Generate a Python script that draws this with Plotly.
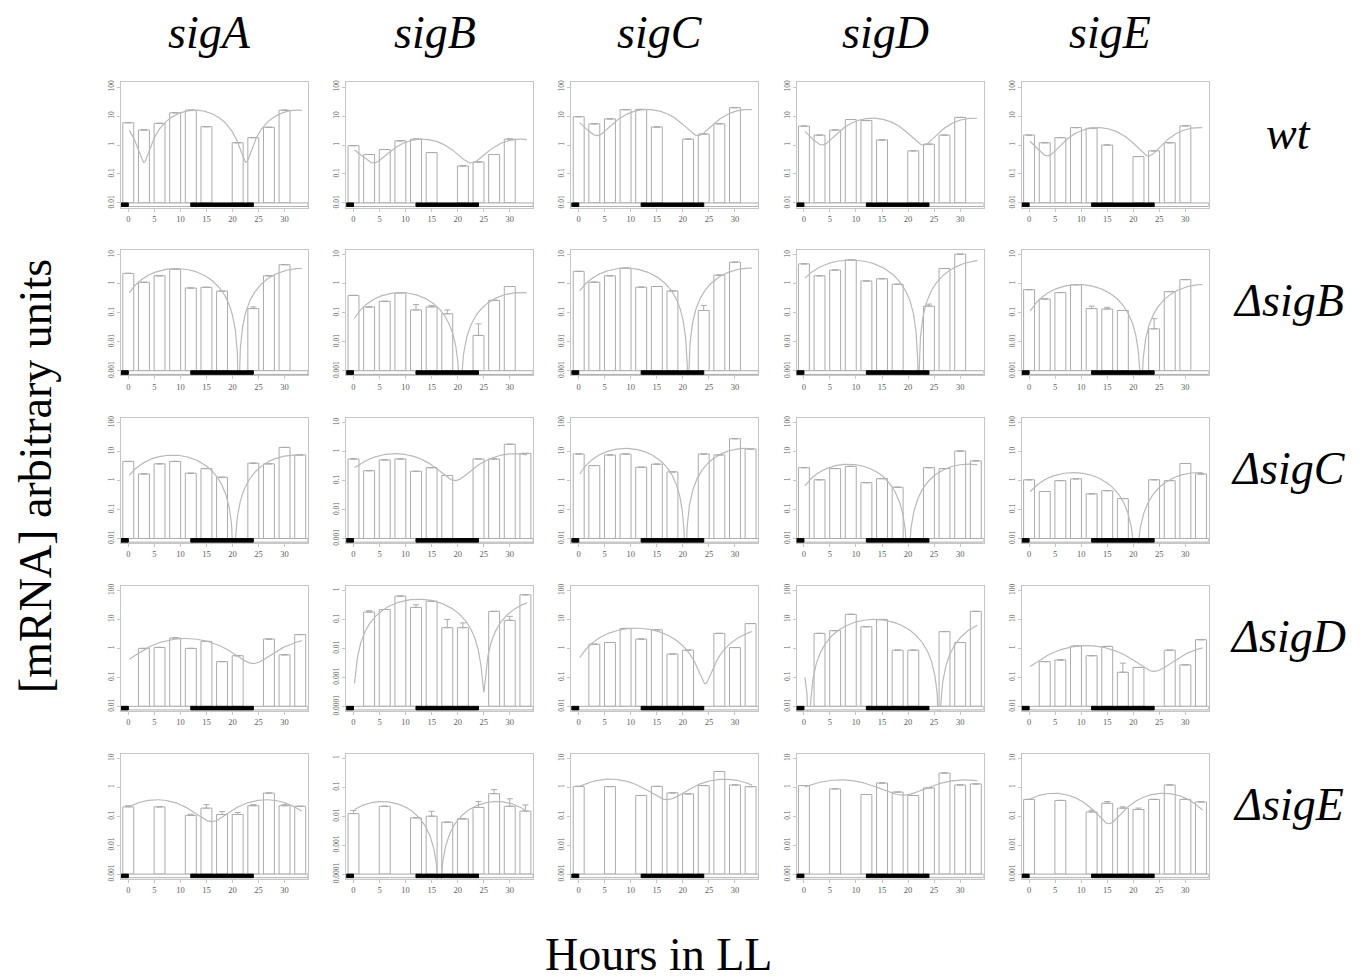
import numpy as np
import plotly.graph_objects as go

W, H = 1361, 979

genes = ["sigA", "sigB", "sigC", "sigD", "sigE"]
strains = ["wt", "ΔsigB", "ΔsigC", "ΔsigD", "ΔsigE"]
hours = [0, 3, 6, 9, 12, 15, 18, 21, 24, 27, 30, 33]
x_ticks = [0, 5, 10, 15, 20, 25, 30]
dark_periods = [(-3, 0), (12, 24)]
light_periods = [(0, 12), (24, 40)]

# lowest decade (log10) of each panel's y axis
y_min_exp = {
    "wt":    [-2, -2, -2, -2, -2],
    "ΔsigB": [-3, -3, -3, -3, -3],
    "ΔsigC": [-2, -3, -2, -2, -2],
    "ΔsigD": [-2, -4, -2, -2, -2],
    "ΔsigE": [-3, -4, -3, -3, -3],
}

# [mRNA] values at each hour (None = no bar)
wt_vals = {
    "sigA": [5.9, 3.3, 5.6, 13, 16, 4.3, None, 1.2, 1.8, 4.1, 16, None],
    "sigB": [0.95, 0.47, 0.7, 1.4, 1.6, 0.55, None, 0.19, 0.26, 0.47, 1.6, None],
    "sigC": [9.5, 5.4, 8.0, 16.6, 17, 4.2, None, 1.6, 2.4, 5.4, 19.5, None],
    "sigD": [4.5, 2.2, 3.3, 7.6, 7.0, 1.5, None, 0.63, 1.07, 2.2, 9.0, None],
    "sigE": [2.2, 1.2, 1.8, 4.0, 3.8, 1.0, None, 0.4, 0.63, 1.2, 4.6, None],
}
dsigB_vals = {
    "sigA": [2.3, 1.13, 1.9, 3.2, 0.72, 0.76, 0.56, None, 0.14, 1.9, 4.6, None],
    "sigB": [0.4, 0.16, 0.25, 0.49, 0.126, 0.16, 0.093, None, 0.0166, 0.27, 0.81, None],
    "sigC": [2.7, 1.14, 1.9, 3.5, 0.77, 0.81, 0.57, None, 0.12, 2.0, 5.6, None],
    "sigD": [4.9, 1.9, 3.0, 6.7, 1.26, 1.5, 0.97, None, 0.17, 3.4, 10.6, None],
    "sigE": [0.63, 0.3, 0.5, 0.93, 0.14, 0.135, 0.12, None, 0.028, 0.54, 1.4, None],
}
dsigC_vals = {
    "sigA": [4.6, 1.7, 3.8, 4.6, 1.8, 2.6, 1.3, None, 4.0, 3.8, 14, 7.7],
    "sigB": [0.56, 0.22, 0.52, 0.56, 0.21, 0.28, 0.15, None, 0.56, 0.56, 1.8, 0.87],
    "sigC": [8.3, 3.3, 7.7, 8.3, 2.9, 3.7, 2.0, None, 8.3, 7.7, 28, 12.4],
    "sigD": [2.8, 1.07, 2.6, 3.1, 0.85, 1.17, 0.59, None, 2.8, 2.6, 10.5, 4.8],
    "sigE": [1.07, 0.42, 1.0, 1.15, 0.35, 0.45, 0.24, None, 1.07, 1.0, 3.9, 1.7],
}
dsigD_vals = {
    "sigA": [None, 1.0, 1.08, 2.3, 1.0, 1.75, 0.35, 0.56, None, 2.1, 0.6, 3.0],
    "sigB": [None, 0.18, 0.22, 0.64, 0.26, 0.43, 0.052, 0.052, None, 0.19, 0.093, 0.71],
    "sigC": [None, 1.4, 1.6, 4.9, 2.1, 4.4, 0.64, 0.87, None, 3.3, 1.07, 7.2],
    "sigD": [None, 3.3, 4.1, 15, 5.6, 10, 0.87, 0.87, None, 3.8, 1.6, 19],
    "sigE": [None, 0.35, 0.4, 1.2, 0.56, 1.17, 0.15, 0.22, None, 0.87, 0.27, 2.0],
}
dsigE_vals = {
    "sigA": [0.21, None, 0.21, None, 0.107, 0.19, 0.114, 0.114, 0.23, 0.63, 0.23, 0.22],
    "sigB": [0.0123, None, 0.022, None, 0.0088, 0.01, 0.0062, 0.0081, 0.02, 0.06, 0.022, 0.015],
    "sigC": [1.07, None, 1.05, None, 0.52, 1.07, 0.64, 0.59, 1.14, 3.5, 1.2, 1.05],
    "sigD": [1.14, None, 0.88, None, 0.56, 1.4, 0.68, 0.52, 0.95, 3.1, 1.2, 1.3],
    "sigE": [0.38, None, 0.35, None, 0.14, 0.28, 0.19, 0.17, 0.38, 1.2, 0.38, 0.31],
}
values = {"wt": wt_vals, "ΔsigB": dsigB_vals, "ΔsigC": dsigC_vals,
          "ΔsigD": dsigD_vals, "ΔsigE": dsigE_vals}

# upper error bars (only where visibly larger than the cap)
errors = {
    ("ΔsigB", "sigA"): [0, 0, 0, 0, 0, 0, 0, 0, 0.02, 0, 0, 0],
    ("ΔsigB", "sigB"): [0, 0, 0, 0, 0.065, 0.02, 0.033, 0, 0.025, 0, 0, 0],
    ("ΔsigB", "sigC"): [0, 0, 0, 0, 0, 0, 0, 0, 0.06, 0, 0, 0],
    ("ΔsigB", "sigD"): [0, 0, 0, 0, 0, 0, 0, 0, 0.03, 0, 0, 0],
    ("ΔsigB", "sigE"): [0, 0, 0, 0, 0.03, 0.02, 0, 0, 0.035, 0, 0, 0],
    ("ΔsigD", "sigB"): [0, 0.02, 0, 0, 0.06, 0, 0.048, 0.024, 0, 0, 0.035, 0],
    ("ΔsigD", "sigE"): [0, 0, 0, 0, 0, 0, 0.16, 0, 0, 0, 0, 0],
    ("ΔsigE", "sigA"): [0.02, 0, 0, 0, 0.01, 0.06, 0.03, 0.02, 0.02, 0, 0.02, 0],
    ("ΔsigE", "sigB"): [0.0035, 0, 0, 0, 0, 0.0048, 0, 0, 0.012, 0.023, 0.018, 0.0095],
    ("ΔsigE", "sigE"): [0, 0, 0, 0, 0.02, 0.04, 0.02, 0.02, 0, 0, 0, 0],
}

# fitted cosine curves: peak, trough, peak time, period
fit_peak = {
    "wt":    [16, 1.6, 17, 8.5, 4.0],
    "ΔsigB": [3.4, 0.5, 3.5, 6.7, 0.95],
    "ΔsigC": [7.6, 0.85, 13, 3.7, 1.9],
    "ΔsigD": [2.2, 0.5, 5.0, 10, 1.25],
    "ΔsigE": [0.37, 0.032, 1.9, 1.8, 0.62],
}
fit_trough = {
    "wt":    [0.25, 0.24, 2.1, 1.0, 0.42],
    "ΔsigB": [0, 0, 0, 0, 0],
    "ΔsigC": [0, 0.1, 0, 0, 0],
    "ΔsigD": [0.3, 0.0003, 0.06, 0, 0.16],
    "ΔsigE": [0.065, 0, 0.37, 0.53, 0.055],
}
fit_phase = {
    "wt":    [12.8, 13.2, 13.2, 13.2, 13.2],
    "ΔsigB": [9.2, 9.0, 9.0, 9.0, 9.5],
    "ΔsigC": [8.5, 8.0, 9.0, 8.5, 8.5],
    "ΔsigD": [11, 12.5, 11, 13.5, 11],
    "ΔsigE": [5.5, 5.5, 6.0, 7.0, 4.8],
}
fit_period = {
    "wt":    [19.6, 18.8, 19.4, 19.4, 19.4],
    "ΔsigB": [24, 23, 24, 26, 24],
    "ΔsigC": [23.6, 23, 23, 23, 24],
    "ΔsigD": [26, 25, 26.6, 25, 26],
    "ΔsigE": [21, 22, 22, 24, 21],
}
fit_span = (0.2, 33.3)

# ---------------- layout geometry (pixels) ----------------
col_left0, col_step, panel_w = 113, 225.2, 187
row_top0, row_step, panel_h = 73, 169, 126
x_range = [-1.4, 34.5]
pad = 0.16

bar_fill = "white"
bar_line = "#ababab"
frame_col = "#c6c6c6"
curve_col = "#b9b9b9"
tick_col = "#5e5e5e"
serif = "Liberation Serif, Times New Roman, serif"


def tick_label(k):
    if k >= 0:
        return str(10 ** k)
    return "0." + "0" * (-k - 1) + "1"


fig = go.Figure()
layout = dict(width=W, height=H, margin=dict(l=0, r=0, t=0, b=0),
              paper_bgcolor="white", plot_bgcolor="white",
              showlegend=False, shapes=[], annotations=[])

t_fit = np.linspace(fit_span[0], fit_span[1], 800)

for r, strain in enumerate(strains):
    for c, gene in enumerate(genes):
        idx = r * 5 + c + 1
        xa = "x" if idx == 1 else f"x{idx}"
        ya = "y" if idx == 1 else f"y{idx}"
        xkey = "xaxis" if idx == 1 else f"xaxis{idx}"
        ykey = "yaxis" if idx == 1 else f"yaxis{idx}"

        e = y_min_exp[strain][c]
        base = 10.0 ** e
        vals = values[strain][gene]
        errs = errors.get((strain, gene), [0] * len(hours))

        left = col_left0 + c * col_step
        top = row_top0 + r * row_step
        layout[xkey] = dict(
            domain=[left / W, (left + panel_w) / W], anchor=ya,
            range=x_range, tickvals=x_ticks, ticks="outside", ticklen=3,
            tickcolor=frame_col, showline=True, mirror=True, linecolor=frame_col,
            linewidth=1, showgrid=False, zeroline=False,
            tickfont=dict(family=serif, size=8.5, color=tick_col),
        )
        layout[ykey] = dict(
            domain=[1 - (top + panel_h) / H, 1 - top / H], anchor=xa,
            type="log", range=[e - pad, e + 4 + pad],
            tickvals=[10.0 ** k for k in range(e, e + 5)],
            ticktext=[tick_label(k) for k in range(e, e + 5)],
            tickangle=-90, ticks="outside", ticklen=3, tickcolor=frame_col,
            showline=True, mirror=True, linecolor=frame_col, linewidth=1,
            showgrid=False, zeroline=False,
            tickfont=dict(family=serif, size=7.5, color=tick_col),
        )

        # bars
        fig.add_trace(go.Bar(
            x=hours, y=[(v - base) if v is not None else None for v in vals],
            base=base, width=2.1, xaxis=xa, yaxis=ya,
            marker=dict(color=bar_fill, line=dict(color=bar_line, width=1)),
        ))
        # error bars
        fig.add_trace(go.Scatter(
            x=hours, y=vals, mode="markers", xaxis=xa, yaxis=ya,
            marker=dict(size=1, color="rgba(0,0,0,0)"),
            error_y=dict(type="data", symmetric=False, array=errs,
                         arrayminus=[0] * len(hours), color=bar_line,
                         thickness=1, width=3),
        ))
        # fitted curve
        P = fit_peak[strain][c]
        m = fit_trough[strain][c]
        phi = fit_phase[strain][c]
        T = fit_period[strain][c]
        yfit = (P + m) / 2 + (P - m) / 2 * np.cos(2 * np.pi * (t_fit - phi) / T)
        yfit = np.where(yfit > 0, yfit, np.nan)
        fig.add_trace(go.Scatter(
            x=t_fit, y=yfit, mode="lines", xaxis=xa, yaxis=ya,
            line=dict(color=curve_col, width=1.2), connectgaps=False,
        ))

        # light/dark strip
        y0s, y1s = 10 ** (e - 0.125), base
        for (a, b) in light_periods:
            layout["shapes"].append(dict(
                type="rect", xref=xa, yref=ya, x0=max(a, x_range[0]),
                x1=min(b, x_range[1]), y0=y0s, y1=y1s,
                fillcolor="white", line=dict(color=bar_line, width=1), layer="above"))
        for (a, b) in dark_periods:
            layout["shapes"].append(dict(
                type="rect", xref=xa, yref=ya, x0=max(a, x_range[0]),
                x1=min(b, x_range[1]), y0=y0s, y1=y1s,
                fillcolor="black", line=dict(color="black", width=1), layer="above"))

# column titles
for c, gene in enumerate(genes):
    cx = col_left0 + c * col_step + panel_w / 2 - 5
    layout["annotations"].append(dict(
        text=f"<i>{gene}</i>", x=cx / W, y=1 - 23 / H, xref="paper", yref="paper",
        showarrow=False, xanchor="center", yanchor="middle",
        font=dict(family=serif, size=46, color="black")))
# row labels
for r, strain in enumerate(strains):
    cy = row_top0 + r * row_step + panel_h / 2 - 12
    layout["annotations"].append(dict(
        text=f"<i>{strain}</i>", x=1280 / W, y=1 - cy / H, xref="paper", yref="paper",
        showarrow=False, xanchor="center", yanchor="middle",
        font=dict(family=serif, size=46, color="black")))
# axis titles
layout["annotations"].append(dict(
    text="[mRNA] arbitrary units", x=0.0, y=1 - 470 / H, xref="paper", yref="paper",
    showarrow=False, textangle=-90, xanchor="left", yanchor="middle",
    font=dict(family=serif, size=46, color="black")))
layout["annotations"].append(dict(
    text="Hours in LL", x=650 / W, y=0.0, xref="paper", yref="paper",
    showarrow=False, xanchor="center", yanchor="bottom",
    font=dict(family=serif, size=46, color="black")))

fig.update_layout(**layout)
fig.write_html("out.html")
